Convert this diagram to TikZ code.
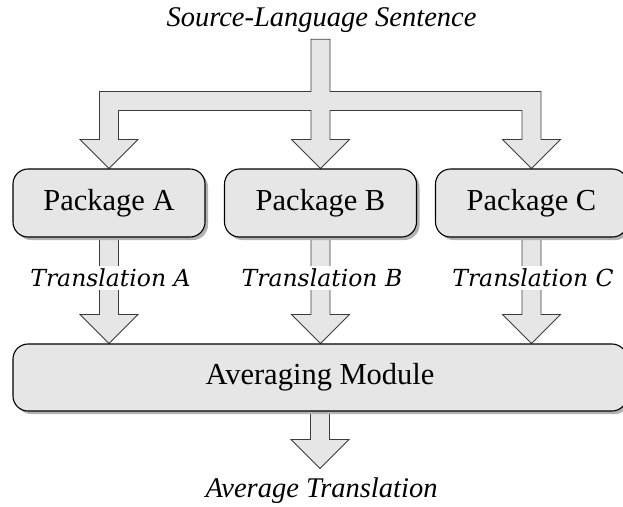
\documentclass[tikz,border=0pt]{standalone}
\usepackage{fontspec}
\setmainfont{Liberation Serif}
\newfontfamily\transfont{DejaVu Serif}
\usetikzlibrary{calc,shadows,backgrounds}
\definecolor{boxgray}{HTML}{E6E6E6}
\definecolor{edgegray}{HTML}{3C3C3C}

\newcommand{\fatdown}[2]{%
	\draw[fatarrow] let \p1=(#1), \p2=(#2) in
		(\x1-9.5pt,\y1) -- (\x1+9.5pt,\y1) -- (\x1+9.5pt,\y2+29pt)
		-- (\x1+29pt,\y2+29pt) -- (\x1,\y2) -- (\x1-29pt,\y2+29pt)
		-- (\x1-9.5pt,\y2+29pt) -- cycle;%
}

\begin{document}
\begin{tikzpicture}[
			x=1pt,
			y=-1pt,
			every node/.style={inner sep=0pt},
			package/.style={draw=black, line width=1.1pt, fill=boxgray,
				rounded corners=15pt, minimum height=68pt,
				font=\fontsize{30.5}{32}\selectfont,
				drop shadow={shadow xshift=3pt, shadow yshift=-3pt,
					fill=black!30, opacity=1}},
			fatarrow/.style={draw=edgegray, line width=0.8pt, fill=boxgray},
			capt/.style={anchor=base, font=\fontsize{28.5}{30}\selectfont\itshape},
			transtext/.style={anchor=base, fill=white, inner sep=3pt,
				font=\transfont\fontsize{23.5}{25}\selectfont\itshape}
		]
			\useasboundingbox (0,0) rectangle (623,506);

			\node[capt] (src) at (321.5,27) {Source-Language Sentence};
			\node[capt] (out) at (321.5,497) {Average Translation};

			\node[package, minimum width=614pt, minimum height=67pt]
				(avg) at (320,377.5) {Averaging Module};

			\foreach \x/\name/\letter in {
				109/pa/A,
				320.5/pb/B,
				531.5/pc/C
			}{
				\node[package, minimum width=192pt]
					(\name) at (\x,203) {Package \letter};
				\node[transtext]
					(t\name) at ($(\name.south)+(1.5,49)$) {Translation \letter};
				\begin{pgfonlayer}{background}
					\fatdown{\name.center}{avg.north}
				\end{pgfonlayer}
			}

			\begin{pgfonlayer}{background}
				\fatdown{avg.center}{$(out.north)+(0,-8.5)$}
				% splitter from the sentence to the three packages
				\draw[fatarrow] let \p0=($(src.south)+(0,6)$),
					\p1=(pa.north), \p2=(pb.north), \p3=(pc.north) in
					(\x2-9.5pt,\y0) -- (\x2+9.5pt,\y0) -- (\x2+9.5pt,\y1+77pt)
					-- (\x3+9.5pt,\y1+77pt) -- (\x3+9.5pt,\y1+29pt)
					-- (\x3+29pt,\y1+29pt) -- (\x3,\y1) -- (\x3-29pt,\y1+29pt)
					-- (\x3-9.5pt,\y1+29pt) -- (\x3-9.5pt,\y1+58pt)
					-- (\x2+9.5pt,\y1+58pt) -- (\x2+9.5pt,\y1+29pt)
					-- (\x2+29pt,\y1+29pt) -- (\x2,\y1) -- (\x2-29pt,\y1+29pt)
					-- (\x2-9.5pt,\y1+29pt) -- (\x2-9.5pt,\y1+58pt)
					-- (\x1+9.5pt,\y1+58pt) -- (\x1+9.5pt,\y1+29pt)
					-- (\x1+29pt,\y1+29pt) -- (\x1,\y1) -- (\x1-29pt,\y1+29pt)
					-- (\x1-9.5pt,\y1+29pt) -- (\x1-9.5pt,\y1+77pt)
					-- (\x2-9.5pt,\y1+77pt) -- cycle;
			\end{pgfonlayer}
		\end{tikzpicture}
\end{document}
